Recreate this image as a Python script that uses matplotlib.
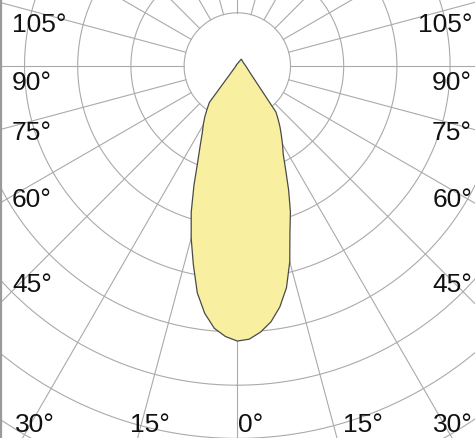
import numpy as np
import matplotlib.pyplot as plt
from matplotlib.lines import Line2D

# intensity in ring units (one ring = one grid circle), gamma in degrees from nadir
right_gamma = [0, 2.5, 5, 7.5, 10, 12.5, 15, 17.5, 20, 22.5, 25, 27.5, 30, 32.5, 35, 37.5, 40,
               60, 90, 120, 150, 180]
right_I = [5.17, 5.14, 5.02, 4.85, 4.60, 4.27, 3.81, 3.29, 2.92, 2.52, 2.15, 1.87, 1.70, 1.54, 1.40, 1.26, 1.13,
           0.29, 0.16, 0.13, 0.15, 0.04]
left_gamma = [0, 2.5, 5, 7.5, 10, 12.5, 15, 17.5, 20, 22.5, 25, 27.5, 30, 32.5, 35, 37.5,
              60, 90, 120, 150, 180]
left_I = [5.17, 5.09, 4.95, 4.69, 4.33, 3.82, 3.35, 2.88, 2.38, 1.94, 1.65, 1.43, 1.28, 1.14, 0.99, 0.86,
          0.05, 0.03, 0.02, 0.03, 0.04]

rings = [1, 2, 3, 4, 5, 6, 7, 8, 9]
spokes = np.arange(0, 360, 15)

left_labels = ['105°', '90°', '75°', '60°', '45°']
side_baselines = [32, 90, 140, 207, 292]
bottom_labels = ['30°', '15°', '0°', '15°', '30°']
bottom_x = [15, 130, 238, 343, 433]

W, H = 475, 439
cx, cy = 237.3, 67       # pole position in pixels (from top-left)
ring_px = 53.2
rmax = rings[-1]

fig = plt.figure(figsize=(W / 100, H / 100), dpi=100)
rad = rmax * ring_px
ax = fig.add_axes([(cx - rad) / W, (H - cy - rad) / H, 2 * rad / W, 2 * rad / H],
                  projection='polar')
ax.set_theta_zero_location('S')
ax.axis('off')

grid_kw = dict(color='#aaaaaa', lw=0.8, zorder=1)
t = np.linspace(0, 2 * np.pi, 720)
for r in rings:
    ax.plot(t, np.full_like(t, r), **grid_kw)
for a in spokes:
    ax.plot([np.deg2rad(a)] * 2, [rings[0], rmax], **grid_kw)

theta = np.deg2rad(np.r_[right_gamma, -np.array(left_gamma[::-1])])
inten = np.r_[right_I, left_I[::-1]]
ax.fill(theta, inten, facecolor='#f9efa0', edgecolor='#4a4a4a', lw=0.9, zorder=3)
ax.set_ylim(0, rmax)

font = dict(family=['Liberation Sans Narrow', 'Liberation Sans', 'DejaVu Sans'],
            fontsize=19, color='#111111', va='baseline')
for lab, yb in zip(left_labels, side_baselines):
    fig.text(12 / W, 1 - yb / H, lab, ha='left', **font)
    fig.text(472 / W, 1 - yb / H, lab, ha='right', **font)
for lab, xb in zip(bottom_labels, bottom_x):
    fig.text(xb / W, 1 - 432 / H, lab, ha='left', **font)

# frame remnants on the left and top edge
fig.add_artist(Line2D([0.002, 0.002], [0, 1], color='#9a9a9a', lw=1.6, transform=fig.transFigure))
fig.add_artist(Line2D([0, 1], [0.999, 0.999], color='#9a9a9a', lw=1.2, transform=fig.transFigure))

fig.savefig('out.png', dpi=100)
